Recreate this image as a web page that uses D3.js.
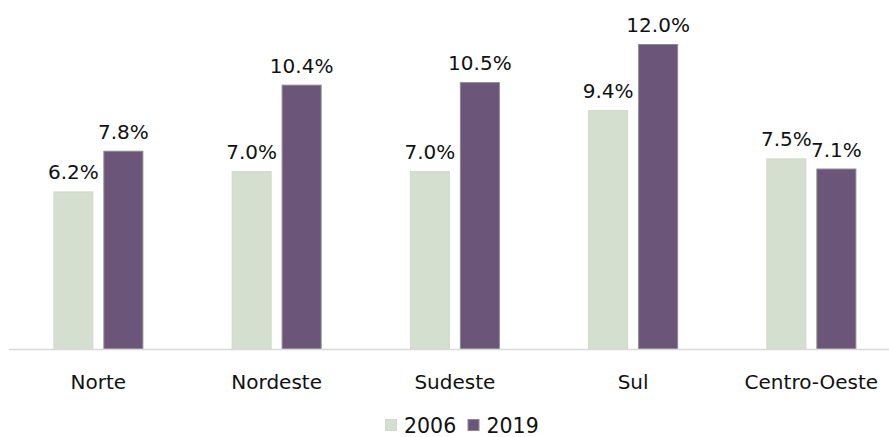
<!DOCTYPE html>
<html>
<head>
<meta charset="utf-8">
<script src="https://cdn.jsdelivr.net/npm/d3@7"></script>
<style>
    body { margin: 0; background: #fff; }
    svg text { font-family: "DejaVu Sans", sans-serif; fill: #111; }
</style>
</head>
<body>
<svg id="svg"></svg>
<script>
// regions and the two survey years
const regions = ["Norte", "Nordeste", "Sudeste", "Sul", "Centro-Oeste"];
const years = ["2006", "2019"];
const values2006 = [6.2, 7.0, 7.0, 9.4, 7.5];
const values2019 = [7.8, 10.4, 10.5, 12.0, 7.1];

const colorMap = {
    "2006": "#d5dfcf",
    "2019": "#6b5578",
};
const strokeMap = {
    "2006": "#cfd8c9",
    "2019": "#8a8a8a",
};

const size = { width: 889, height: 437 };
const baseY = 349;

const svg = d3.select("#svg").attr("width", size.width).attr("height", size.height);

const x0 = d3.scaleBand().domain(regions).range([9.25, 900.5]);
const x1 = d3.scaleBand().domain(years)
    .range([x0.bandwidth() / 2 - 45, x0.bandwidth() / 2 + 45])
    .paddingInner(0.2);
const y = d3.scaleLinear().domain([0, 12]).range([baseY, 44]);

const rows = regions.map((region, i) => ({
    region: region,
    bars: [
        { year: "2006", value: values2006[i] },
        { year: "2019", value: values2019[i] },
    ],
}));

const groups = svg.selectAll("g.region")
    .data(rows)
    .join("g")
    .attr("class", "region")
    .attr("transform", d => `translate(${x0(d.region)},0)`);

groups.selectAll("rect")
    .data(d => d.bars)
    .join("rect")
    .attr("x", d => x1(d.year) + 0.5)
    .attr("y", d => y(d.value) + 0.5)
    .attr("width", x1.bandwidth() - 1)
    .attr("height", d => baseY - y(d.value) - 0.5)
    .attr("fill", d => colorMap[d.year])
    .attr("stroke", d => strokeMap[d.year])
    .attr("stroke-width", 1);

groups.selectAll("text.value")
    .data(d => d.bars)
    .join("text")
    .attr("class", "value")
    .attr("x", d => x1(d.year) + x1.bandwidth() / 2)
    .attr("y", d => y(d.value) - 12)
    .attr("text-anchor", "middle")
    .style("font-size", "20px")
    .text(d => d.value.toFixed(1) + "%");

// baseline
svg.append("line")
    .attr("x1", 9).attr("x2", 889)
    .attr("y1", baseY + 0.5).attr("y2", baseY + 0.5)
    .attr("stroke", "#d9d9d9")
    .attr("stroke-width", 1.5);

// category labels
const xAxis = svg.append("g")
    .attr("transform", `translate(0,${baseY})`)
    .call(d3.axisBottom(x0).tickSize(0).tickPadding(0));
xAxis.select(".domain").remove();
xAxis.selectAll("text")
    .attr("y", 39.5)
    .attr("dy", null)
    .style("font-size", "20px")
    .style("font-family", "DejaVu Sans, sans-serif")
    .attr("fill", "#111");

// legend
const legendItems = [
    { year: "2006", x: 385 },
    { year: "2019", x: 467.5 },
];
const legend = svg.selectAll("g.legend")
    .data(legendItems)
    .join("g")
    .attr("class", "legend")
    .attr("transform", d => `translate(${d.x},419)`);
legend.append("rect")
    .attr("x", 0.5).attr("y", 0.5)
    .attr("width", 11).attr("height", 11)
    .attr("fill", d => colorMap[d.year])
    .attr("stroke", d => strokeMap[d.year]);
legend.append("text")
    .attr("x", 19)
    .attr("y", 13.5)
    .style("font-size", "20.5px")
    .text(d => d.year);
</script>
</body>
</html>
